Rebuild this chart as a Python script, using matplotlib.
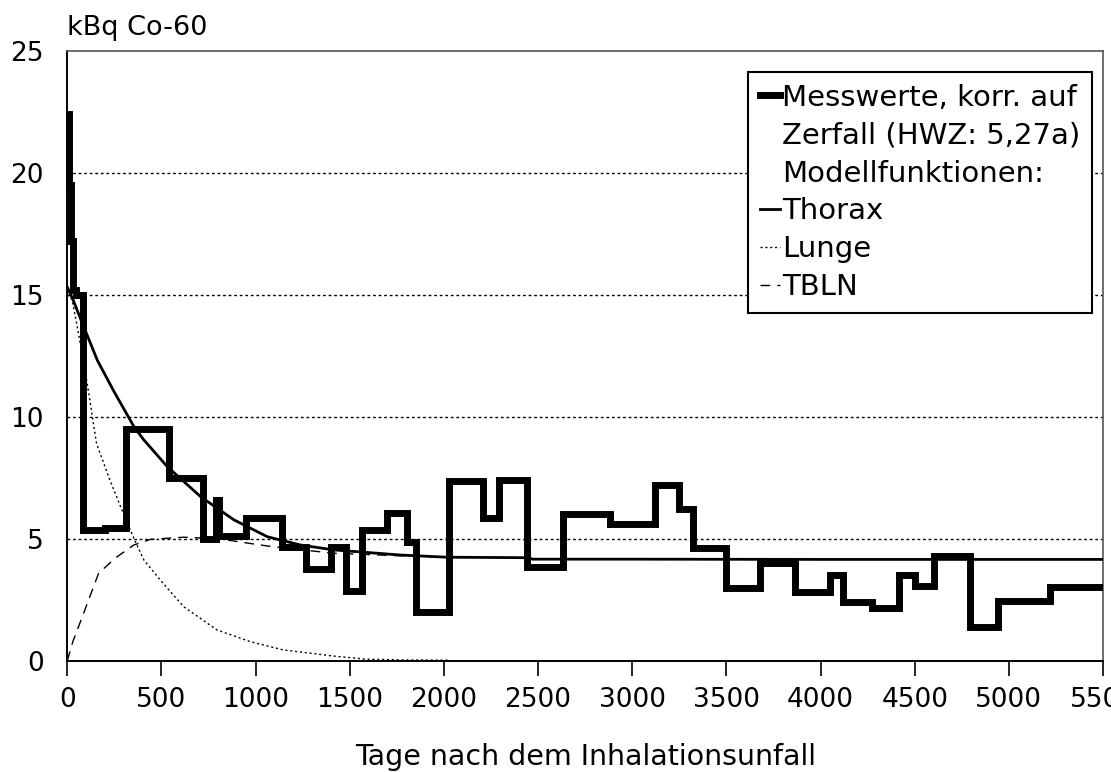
import matplotlib.pyplot as plt
from matplotlib.lines import Line2D

plt.rcParams['font.family'] = ['DejaVu Sans']

# Messwerte, korrigiert auf Zerfall (Stufen: Tag des Stufenbeginns, kBq)
mess_tage = [0, 8, 18, 30, 45, 85, 200, 310, 540, 720, 790, 805, 950, 1140,
             1265, 1400, 1480, 1565, 1700, 1805, 1850, 2025, 2210, 2290, 2440,
             2630, 2880, 3120, 3250, 3325, 3500, 3680, 3865, 4050, 4120, 4275,
             4415, 4500, 4605, 4795, 4940, 5220, 5500]
mess_kbq = [22.4, 19.5, 17.2, 15.2, 15.0, 5.35, 5.45, 9.5, 7.5, 5.0, 6.6, 5.1,
            5.85, 4.65, 3.75, 4.65, 2.85, 5.35, 6.05, 4.85, 2.0, 7.35, 5.85,
            7.4, 3.85, 6.0, 5.6, 7.2, 6.2, 4.6, 2.97, 4.0, 2.8, 3.5, 2.42, 2.15,
            3.5, 3.05, 4.27, 1.4, 2.45, 3.0, 3.0]

# Modellfunktionen
thorax_tage = [0, 30, 76, 160, 250, 353, 406, 531, 708, 885, 1062, 1238, 1415,
               1768, 2018, 2450, 2470, 3000, 4000, 5500]
thorax_kbq = [15.3, 14.8, 13.9, 12.3, 11.0, 9.6, 9.05, 7.95, 6.72, 5.77, 5.08,
              4.74, 4.54, 4.33, 4.24, 4.22, 4.16, 4.16, 4.15, 4.15]

lunge_tage = [0, 25, 55, 80, 111, 155, 226, 297, 353, 406, 494, 618, 795, 971,
              1148, 1413, 1590, 1800, 2020]
lunge_kbq = [15.0, 14.8, 13.6, 12.5, 11.1, 8.9, 7.4, 6.04, 5.02, 4.13, 3.3,
             2.21, 1.26, 0.78, 0.44, 0.19, 0.06, 0.03, 0.02]

tbln_tage = [0, 30, 60, 113, 166, 254, 353, 441, 618, 800, 1062, 1238, 1415,
             1768, 2018]
tbln_kbq = [0.0, 0.8, 1.4, 2.49, 3.58, 4.2, 4.74, 4.97, 5.06, 5.0, 4.7, 4.55,
            4.4, 4.3, 4.24]

gitter_y = [5, 10, 15, 20]
x_ticks = [0, 500, 1000, 1500, 2000, 2500, 3000, 3500, 4000, 4500, 5000, 5500]
y_ticks = [0, 5, 10, 15, 20, 25]

fig = plt.figure(figsize=(11.11, 7.72), dpi=100)
ax = fig.add_axes([0.0606, 0.1442, 0.9322, 0.7902])

for y in gitter_y:
    ax.axhline(y, color='black', linewidth=1, linestyle=(0, (2, 2)), zorder=1)

ax.plot(lunge_tage, lunge_kbq, color='black', linewidth=1,
        linestyle=(0, (1.5, 2)), zorder=2)
ax.plot(tbln_tage, tbln_kbq, color='black', linewidth=1,
        linestyle=(0, (7, 5)), zorder=2)
ax.plot(thorax_tage, thorax_kbq, color='black', linewidth=2, zorder=3)
ax.step(mess_tage, mess_kbq, where='post', color='black', linewidth=5,
        solid_joinstyle='miter', zorder=4)

ax.set_xlim(0, 5500)
ax.set_ylim(0, 25)
ax.set_xticks(x_ticks)
ax.set_yticks(y_ticks)
ax.tick_params(axis='x', direction='out', length=11, width=1.2, pad=8,
               labelsize=19)
ax.tick_params(axis='y', length=0, pad=17, labelsize=19)

for s in ['left', 'bottom']:
    ax.spines[s].set_color('black')
    ax.spines[s].set_linewidth(1.4)
for s in ['top', 'right']:
    ax.spines[s].set_color('#555555')
    ax.spines[s].set_linewidth(1.2)

fig.text(67 / 1111, 1 - 35 / 772, 'kBq Co-60', fontsize=19.5, ha='left',
         va='baseline')
fig.text(586 / 1111, 1 - 765 / 772, 'Tage nach dem Inhalationsunfall',
         fontsize=20.5, ha='center', va='baseline')

leer = Line2D([], [], linestyle='none')
handles = [
    Line2D([], [], color='black', linewidth=5),
    leer, leer,
    Line2D([], [], color='black', linewidth=2),
    Line2D([], [], color='black', linewidth=1, linestyle=(0, (1.5, 2))),
    Line2D([], [], color='black', linewidth=1, linestyle=(0, (7, 5))),
]
labels = ['Messwerte, korr. auf', 'Zerfall (HWZ: 5,27a)', 'Modellfunktionen:',
          'Thorax', 'Lunge', 'TBLN']
leg = ax.legend(handles, labels, loc='upper left',
                bbox_to_anchor=(748 / 1111, 1 - 72 / 772),
                bbox_transform=fig.transFigure, fontsize=21,
                handlelength=0.7, handletextpad=0.08, labelspacing=0.34,
                borderpad=0.4, borderaxespad=0, fancybox=False,
                framealpha=1, edgecolor='black')
leg.get_frame().set_linewidth(1.5)
leg.set_zorder(10)

fig.savefig('out.png', dpi=100)
